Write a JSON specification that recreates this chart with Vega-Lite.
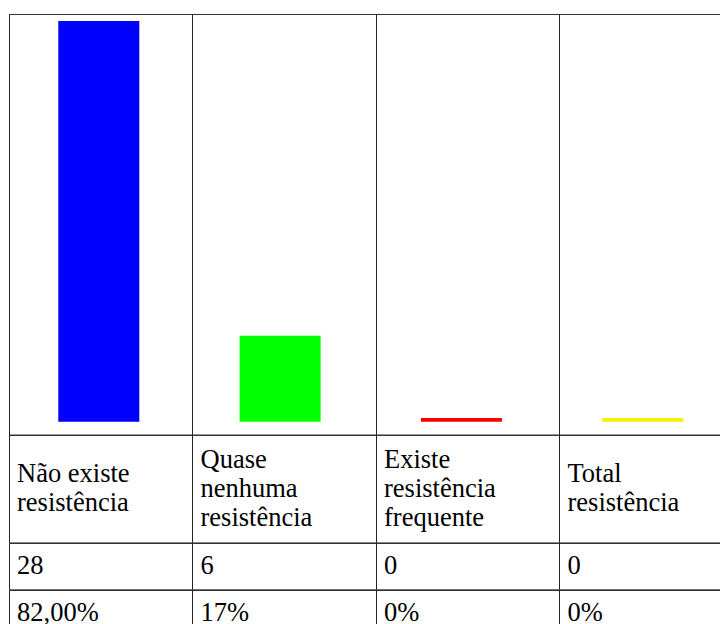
{
  "$schema": "https://vega.github.io/schema/vega-lite/v6.json",
  "description": "Resistência: contagem e percentagem por resposta, com barras por cima da tabela.",
  "padding": {"left": 8, "top": 13, "right": 0, "bottom": 0},
  "background": "white",
  "spacing": 0,
  "bounds": "flush",
  "datasets": {
    "respostas": [
      {"resposta": "Não existe resistência", "rotulo": "Não existe\nresistência", "n": 28, "pct": "82,00%"},
      {"resposta": "Quase nenhuma resistência", "rotulo": "Quase\nnenhuma\nresistência", "n": 6, "pct": "17%"},
      {"resposta": "Existe resistência frequente", "rotulo": "Existe\nresistência\nfrequente", "n": 0, "pct": "0%"},
      {"resposta": "Total resistência", "rotulo": "Total\nresistência", "n": 0, "pct": "0%"}
    ]
  },
  "data": {"name": "respostas"},
  "resolve": {"scale": {"x": "independent", "y": "independent"}},
  "config": {
    "view": {"stroke": "#333", "strokeWidth": 1},
    "text": {"font": "Liberation Serif", "fontSize": 26.5, "color": "black"},
    "axis": {
      "grid": true,
      "gridColor": "#222",
      "gridOpacity": 1,
      "gridWidth": 1,
      "labels": false,
      "ticks": false,
      "domain": false,
      "title": null
    }
  },
  "vconcat": [
    {
      "width": 734,
      "height": 420.5,
      "layer": [
        {
          "mark": {"type": "rule", "opacity": 0},
          "encoding": {
            "x": {
              "field": "resposta",
              "type": "nominal",
              "sort": null,
              "scale": {"type": "band", "paddingInner": 0, "paddingOuter": 0},
              "axis": {"orient": "top", "bandPosition": 0}
            }
          }
        },
        {
          "mark": {"type": "bar", "width": 81},
          "encoding": {
            "x": {
              "field": "resposta",
              "type": "nominal",
              "sort": null,
              "scale": {"type": "band", "range": [-0.85, 724.35], "paddingInner": 0, "paddingOuter": 0},
              "axis": null
            },
            "y": {
              "field": "n",
              "type": "quantitative",
              "scale": {"domain": [0, 28], "range": [407.7, 7]},
              "axis": null
            },
            "color": {
              "field": "resposta",
              "type": "nominal",
              "sort": null,
              "scale": {"range": ["#0000ff", "#00ff00", "#ff0000", "#f5f000"]},
              "legend": null
            }
          }
        },
        {
          "transform": [{"filter": "datum.n === 0"}],
          "mark": {"type": "tick", "size": 81, "thickness": 3.7, "yOffset": -1.85, "opacity": 1},
          "encoding": {
            "x": {
              "field": "resposta",
              "type": "nominal",
              "sort": null,
              "scale": {"type": "band", "domain": ["Não existe resistência", "Quase nenhuma resistência", "Existe resistência frequente", "Total resistência"], "range": [-0.85, 724.35], "paddingInner": 0, "paddingOuter": 0},
              "axis": null
            },
            "y": {
              "field": "n",
              "type": "quantitative",
              "scale": {"domain": [0, 28], "range": [407.7, 7]},
              "axis": null
            },
            "color": {
              "field": "resposta",
              "type": "nominal",
              "scale": {"domain": ["Não existe resistência", "Quase nenhuma resistência", "Existe resistência frequente", "Total resistência"], "range": ["#0000ff", "#00ff00", "#ff0000", "#f5f000"]},
              "legend": null
            }
          }
        }
      ],
      "resolve": {"scale": {"x": "independent", "color": "shared", "y": "shared"}}
    },
    {
      "width": 734,
      "height": 107.4,
      "encoding": {
        "x": {
          "field": "resposta",
          "type": "nominal",
          "sort": null,
          "bandPosition": 0,
          "scale": {"type": "band", "domain": ["Não existe resistência", "Quase nenhuma resistência", "Existe resistência frequente", "Total resistência"], "paddingInner": 0, "paddingOuter": 0},
          "axis": {"orient": "top", "bandPosition": 0}
        },
        "text": {"field": "rotulo"}
      },
      "layer": [
        {
          "transform": [{"filter": "split(datum.rotulo, '\\n').length === 2"}],
          "mark": {"type": "text", "align": "left", "baseline": "middle", "dx": 8, "dy": -14.5, "lineBreak": "\n", "lineHeight": 29}
        },
        {
          "transform": [{"filter": "split(datum.rotulo, '\\n').length === 3"}],
          "mark": {"type": "text", "align": "left", "baseline": "middle", "dx": 8, "dy": -29, "lineBreak": "\n", "lineHeight": 29}
        }
      ]
    },
    {
      "width": 734,
      "height": 46.3,
      "mark": {"type": "text", "align": "left", "baseline": "middle", "dx": 8},
      "encoding": {
        "x": {
          "field": "resposta",
          "type": "nominal",
          "sort": null,
          "bandPosition": 0,
          "scale": {"type": "band", "paddingInner": 0, "paddingOuter": 0},
          "axis": {"orient": "top", "bandPosition": 0}
        },
        "text": {"field": "n", "type": "quantitative", "format": "d"}
      }
    },
    {
      "width": 734,
      "height": 46,
      "mark": {"type": "text", "align": "left", "baseline": "middle", "dx": 8},
      "encoding": {
        "x": {
          "field": "resposta",
          "type": "nominal",
          "sort": null,
          "bandPosition": 0,
          "scale": {"type": "band", "paddingInner": 0, "paddingOuter": 0},
          "axis": {"orient": "top", "bandPosition": 0}
        },
        "text": {"field": "pct"}
      }
    }
  ]
}
